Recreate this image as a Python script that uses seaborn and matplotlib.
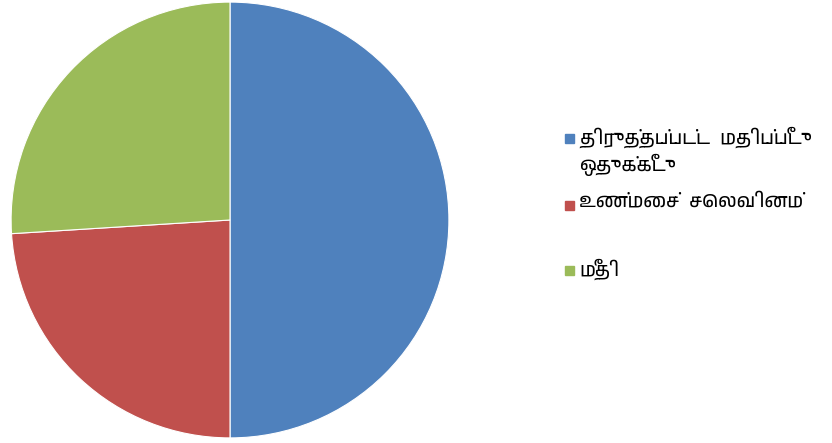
# budget pie: revised estimate vs actual spend vs balance

import matplotlib.pyplot as plt
import seaborn as sns
from matplotlib import font_manager
from matplotlib.patches import Rectangle

labels = ['திருத்தப்பட்ட  மதிப்பீடு\nஒதுக்கீடு', 'உண்மைச்  செலவினம்', 'மீதி']
values = [50, 24, 26]
colors = ['#4F81BD', '#C0504D', '#9BBB59']

sns.set_style('white')

# look for any font that can show Tamil
tamil = [f.name for f in font_manager.fontManager.ttflist
         if 'tamil' in f.name.lower() or 'lohit' in f.name.lower()]
families = sorted(set(tamil)) + ['Noto Sans', 'DejaVu Sans']
plt.rcParams['font.family'] = families

fig = plt.figure(figsize=(8.32, 4.43), dpi=100)
ax = fig.add_axes([10 / 832, 4 / 443, 440 / 832, 438 / 443])
ax.pie(values, colors=colors, startangle=90, counterclock=False,
       radius=1, wedgeprops=dict(edgecolor='white', linewidth=0.8))
ax.set_xlim(-1.005, 1.005)
ax.set_ylim(-1.005, 1.005)
ax.set_aspect('auto')
ax.axis('off')

# legend, placed by hand like the spreadsheet original
rows_y = [138, 205, 270]
for lab, col, y in zip(labels, colors, rows_y):
    fig.patches.append(Rectangle((565 / 832, 1 - (y + 5) / 443), 9 / 832, 9 / 443,
                                 transform=fig.transFigure, color=col))
    fig.text(579 / 832, 1 - (y - 12) / 443, lab, fontsize=13.5, va='top',
             linespacing=1.35, color='black')

plt.savefig('out.png', dpi=100)
